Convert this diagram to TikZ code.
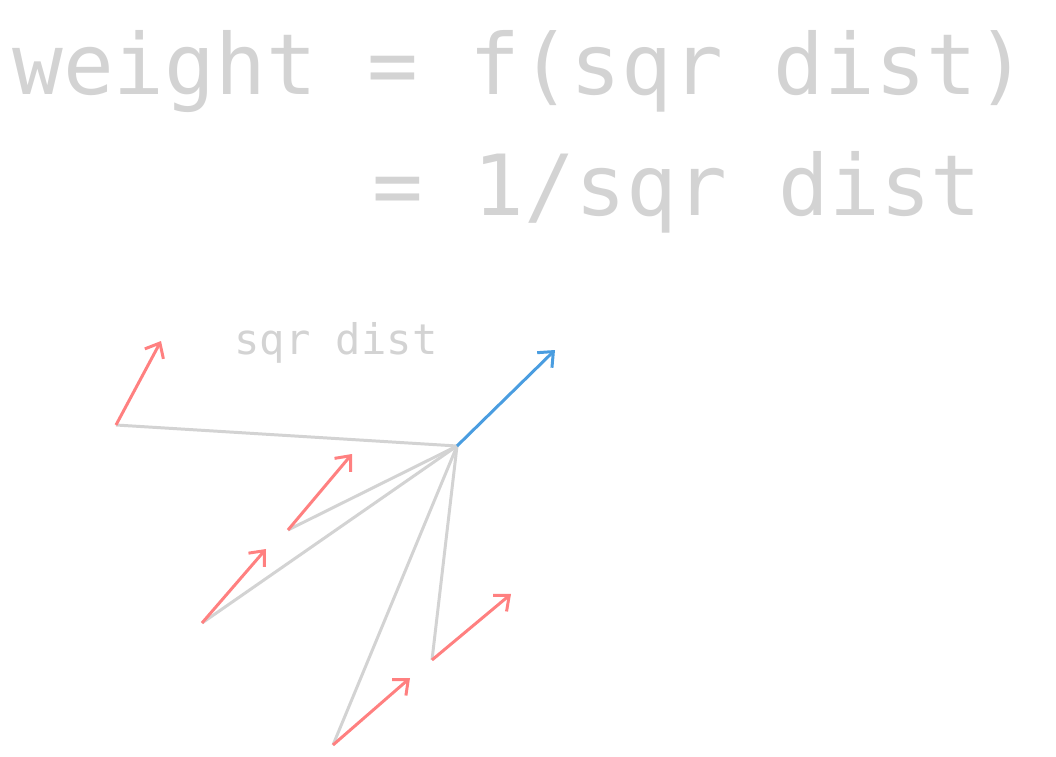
\documentclass[tikz,border=0pt]{standalone}
\usepackage{fontspec}
\setmonofont{DejaVu Sans Mono}
\usetikzlibrary{arrows.meta}
\definecolor{txtgray}{HTML}{D3D3D3}
\definecolor{vecred}{HTML}{FF8080}
\definecolor{vecblue}{HTML}{4A9DE0}
\tikzset{
  dist/.style={txtgray, line width=1.7pt},
  vec/.style={line width=1.7pt, -{Straight Barb[length=7pt,width=12pt]}},
}
\begin{document}
\begin{tikzpicture}[x=0.02cm,y=-0.02cm]
                \useasboundingbox (0,0) rectangle (1056,757);
                \node[anchor=base west, inner sep=0, txtgray, font=\ttfamily\fontsize{48}{48}\selectfont] (eqa) at (12,95) {weight = f(sqr dist)};
                \node[anchor=base west, inner sep=0, txtgray, font=\ttfamily\fontsize{48}{48}\selectfont] (eqb) at (372,215) {= 1/sqr dist};
                \node[anchor=base west, inner sep=0, txtgray, font=\ttfamily\fontsize{24}{24}\selectfont] (lbl) at (234,355) {sqr dist};
                
                \coordinate (c) at (457,446);
                \coordinate (p1) at (116,425);
                \coordinate (p2) at (288,530);
                \coordinate (p3) at (202,623);
                \coordinate (p4) at (432,660);
                \coordinate (p5) at (333,745);
                
                \foreach \p in {p1,p2,p3,p4,p5}
                  \draw[dist] (c) -- (\p);
                
                \coordinate (q1) at (161,341);
                \coordinate (q2) at (352,454);
                \coordinate (q3) at (266,549);
                \coordinate (q4) at (511,594);
                \coordinate (q5) at (410,678);
                \coordinate (b) at (555,350);
                
                \foreach \i in {1,...,5}
                  \draw[vec, vecred] (p\i) -- (q\i);
                \draw[vec, vecblue] (c) -- (b);
\end{tikzpicture}
\end{document}
